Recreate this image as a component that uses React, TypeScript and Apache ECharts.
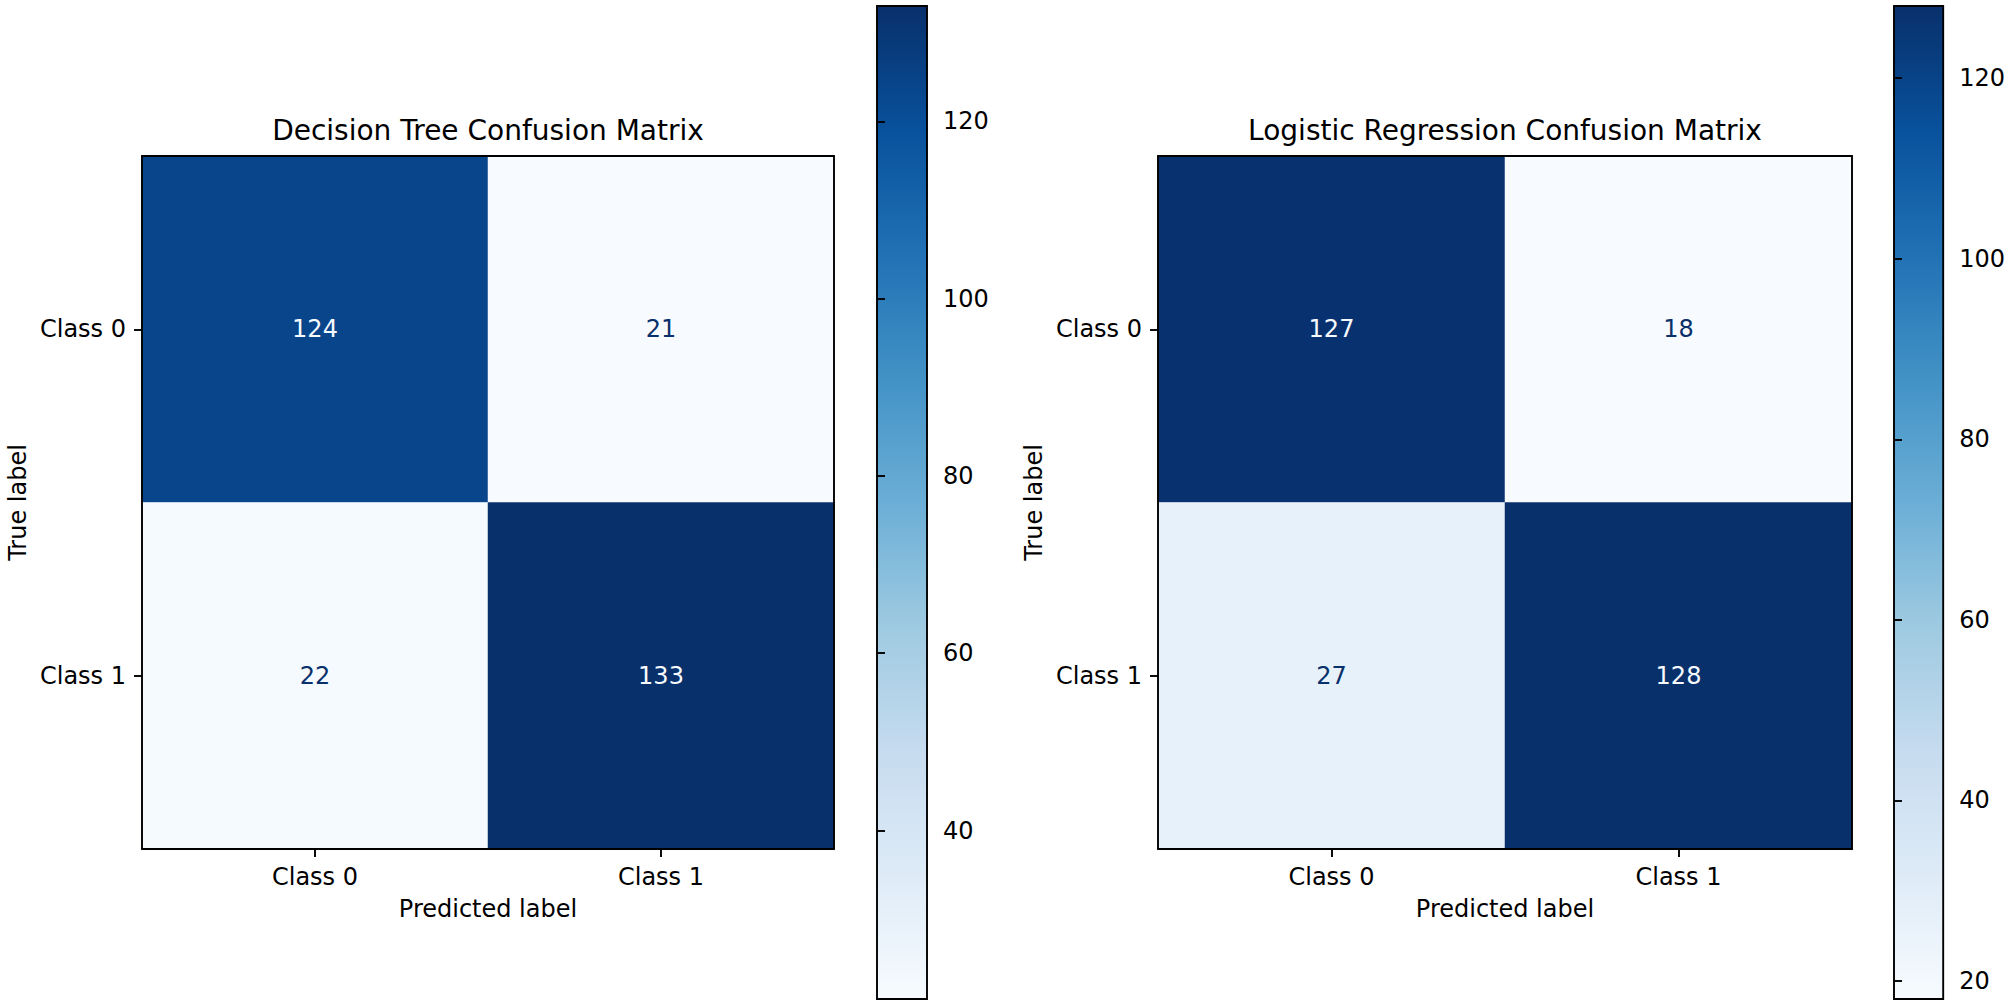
import React, { useEffect, useRef } from "react";
import * as echarts from "echarts";

const classes = ["Class 0", "Class 1"];
const dtTitle = "Decision Tree Confusion Matrix";
const lrTitle = "Logistic Regression Confusion Matrix";
const dtMatrix = [
  [124, 21],
  [22, 133],
];
const lrMatrix = [
  [127, 18],
  [27, 128],
];
const dtTicks = [40, 60, 80, 100, 120];
const lrTicks = [20, 40, 60, 80, 100, 120];
const blues = [
  "#f7fbff",
  "#deebf7",
  "#c6dbef",
  "#9ecae1",
  "#6baed6",
  "#4292c6",
  "#2171b5",
  "#08519c",
  "#08306b",
];

const FONT = "DejaVu Sans";
const TXT = "#000000";

function cells(m: number[][], lo: number, hi: number) {
  const mid = (lo + hi) / 2;
  const out: any[] = [];
  m.forEach((row, r) =>
    row.forEach((v, c) => {
      out.push({
        value: [c, r, v],
        label: { color: v > mid ? blues[0] : blues[8] },
      });
    })
  );
  return out;
}

export default function App() {
  const ref = useRef<HTMLDivElement>(null);
  useEffect(() => {
    document.body.style.margin = "0";
    const chart = echarts.init(ref.current!, null, { renderer: "svg" });
    const dtFlat = dtMatrix.flat();
    const lrFlat = lrMatrix.flat();
    const dtMin = Math.min(...dtFlat);
    const dtMax = Math.max(...dtFlat);
    const lrMin = Math.min(...lrFlat);
    const lrMax = Math.max(...lrFlat);

    const grids = [
      { left: 142, top: 156, width: 692, height: 693 },
      { left: 877, top: 6, width: 50, height: 993 },
      { left: 1158, top: 156, width: 694, height: 693 },
      { left: 1894, top: 6, width: 50, height: 993 },
    ];

    const lineStyle = { color: "#000", width: 1.9 };
    const catX = (gi: number) => ({
      type: "category",
      gridIndex: gi,
      data: classes,
      position: "bottom",
      z: 10,
      axisLine: { show: true, lineStyle },
      axisTick: { show: true, alignWithLabel: true, length: 8, lineStyle },
      axisLabel: { margin: 16, fontSize: 24, fontFamily: FONT, color: TXT },
      splitLine: { show: false },
      name: "Predicted label",
      nameLocation: "middle",
      nameGap: 48,
      nameTextStyle: { fontSize: 24, fontFamily: FONT, color: TXT },
    });
    const catY = (gi: number) => ({
      type: "category",
      gridIndex: gi,
      data: classes,
      inverse: true,
      position: "left",
      z: 10,
      axisLine: { show: true, lineStyle },
      axisTick: { show: true, alignWithLabel: true, length: 8, lineStyle },
      axisLabel: { margin: 16, fontSize: 24, fontFamily: FONT, color: TXT },
      splitLine: { show: false },
      name: "True label",
      nameLocation: "middle",
      nameGap: 112,
      nameTextStyle: { fontSize: 24, fontFamily: FONT, color: TXT },
    });
    const borderX = (gi: number) => ({
      type: "category",
      gridIndex: gi,
      data: classes,
      position: "top",
      z: 10,
      axisLine: { show: true, lineStyle },
      axisTick: { show: false },
      axisLabel: { show: false },
      splitLine: { show: false },
    });
    const borderY = (gi: number) => ({
      type: "category",
      gridIndex: gi,
      data: classes,
      inverse: true,
      position: "right",
      z: 10,
      axisLine: { show: true, lineStyle },
      axisTick: { show: false },
      axisLabel: { show: false },
      splitLine: { show: false },
    });
    const barX = (gi: number) => ({
      type: "value",
      gridIndex: gi,
      min: 0,
      max: 1,
      show: false,
    });
    const barY = (gi: number, lo: number, hi: number, ticks: number[]) => ({
      type: "value",
      gridIndex: gi,
      position: "right",
      min: lo,
      max: hi,
      z: 10,
      axisLine: { show: false },
      splitLine: { show: false },
      axisTick: { show: true, length: 8, lineStyle, customValues: ticks },
      axisLabel: {
        margin: 16,
        fontSize: 24,
        fontFamily: FONT,
        color: TXT,
        customValues: ticks,
      },
    });

    const gradStops = blues.map((c, i) => ({
      offset: i / (blues.length - 1),
      color: c,
    }));
    const colorbar = (idx: number, lo: number, hi: number) => ({
      type: "custom",
      xAxisIndex: idx,
      yAxisIndex: idx,
      silent: true,
      z: 2,
      data: [[0, lo, 1, hi]],
      renderItem: (params: any, api: any) => {
        const p0 = api.coord([api.value(0), api.value(3)]);
        const p1 = api.coord([api.value(2), api.value(1)]);
        return {
          type: "rect",
          shape: {
            x: p0[0],
            y: p0[1],
            width: p1[0] - p0[0],
            height: p1[1] - p0[1],
          },
          style: {
            fill: new echarts.graphic.LinearGradient(0, 1, 0, 0, gradStops),
            stroke: "#000",
            lineWidth: 1.9,
          },
        };
      },
    });

    const heat = (idx: number, m: number[][], lo: number, hi: number) => ({
      type: "heatmap",
      xAxisIndex: idx,
      yAxisIndex: idx,
      data: cells(m, lo, hi),
      label: {
        show: true,
        fontSize: 24,
        fontFamily: FONT,
        formatter: (p: any) => String(p.value[2]),
      },
      itemStyle: { borderWidth: 0 },
      emphasis: { disabled: true },
    });

    chart.setOption({
      animation: false,
      backgroundColor: "#ffffff",
      title: [
        {
          text: dtTitle,
          left: 488,
          top: 116,
          textAlign: "center",
          padding: 0,
          textStyle: { fontSize: 28, fontWeight: "normal", fontFamily: FONT, color: TXT },
        },
        {
          text: lrTitle,
          left: 1505,
          top: 116,
          textAlign: "center",
          padding: 0,
          textStyle: { fontSize: 28, fontWeight: "normal", fontFamily: FONT, color: TXT },
        },
      ],
      grid: grids,
      xAxis: [catX(0), barX(1), catX(2), barX(3), borderX(0), borderX(2)],
      yAxis: [
        catY(0),
        barY(1, dtMin, dtMax, dtTicks),
        catY(2),
        barY(3, lrMin, lrMax, lrTicks),
        borderY(0),
        borderY(2),
      ],
      visualMap: [
        {
          type: "continuous",
          show: false,
          seriesIndex: 0,
          dimension: 2,
          min: dtMin,
          max: dtMax,
          inRange: { color: blues },
        },
        {
          type: "continuous",
          show: false,
          seriesIndex: 2,
          dimension: 2,
          min: lrMin,
          max: lrMax,
          inRange: { color: blues },
        },
      ],
      series: [
        heat(0, dtMatrix, dtMin, dtMax),
        colorbar(1, dtMin, dtMax),
        heat(2, lrMatrix, lrMin, lrMax),
        colorbar(3, lrMin, lrMax),
      ],
    });
    return () => chart.dispose();
  }, []);
  return <div ref={ref} style={{ width: 2008, height: 1005 }} />;
}
